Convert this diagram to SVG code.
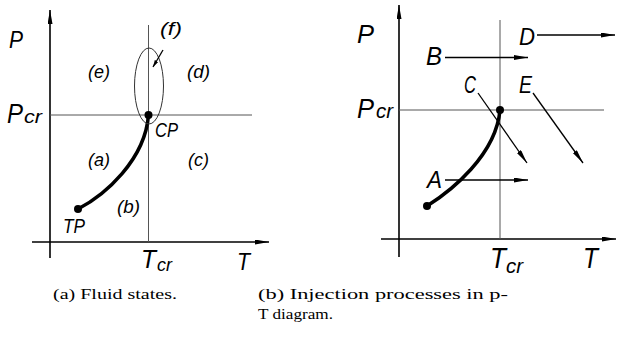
<svg xmlns="http://www.w3.org/2000/svg" width="617" height="343" viewBox="0 0 617 343">
<defs>
<style>
.ax{stroke:#000;stroke-width:1.6;fill:none}
.ref{stroke:#555;stroke-width:1;fill:none}
.curve{stroke:#000;stroke-width:3.5;fill:none;stroke-linecap:round}
.arr{stroke:#000;stroke-width:1.3;fill:none}
.lbl{font-family:"Liberation Sans","DejaVu Sans",sans-serif;font-style:italic;fill:#000}
.cap{font-family:"Liberation Serif","DejaVu Serif",serif;font-size:14.5px;fill:#000}
</style>
<marker id="ah" markerUnits="userSpaceOnUse" markerWidth="15" markerHeight="6" refX="14" refY="2.5" orient="auto">
<path d="M0,0 L14,2.5 L0,5 z" fill="#000"/>
</marker>
<marker id="ahs" markerUnits="userSpaceOnUse" markerWidth="8" markerHeight="5" refX="7" refY="2" orient="auto">
<path d="M0,0 L7,2 L0,4 z" fill="#000"/>
</marker>
</defs>

<g id="panel-a">
<g id="a-axes">
<line class="ax" x1="50" y1="258" x2="50" y2="10" marker-end="url(#ah)"/>
<line class="ax" x1="32" y1="242" x2="269" y2="242" marker-end="url(#ah)"/>
<line class="ref" x1="148.5" y1="25" x2="148.5" y2="242"/>
<line class="ref" x1="50" y1="115" x2="252" y2="115"/>
</g>
<g id="a-curve">
<path class="curve" d="M78,209 C105,195 145,160 148.5,115"/>
<circle cx="148.5" cy="115" r="4" fill="#000"/>
<circle cx="78" cy="209" r="4" fill="#000"/>
<ellipse cx="149" cy="86" rx="14.5" ry="38" fill="none" stroke="#333" stroke-width="1"/>
</g>
<g id="a-connectors">
<line class="arr" x1="163" y1="50" x2="153" y2="67" stroke-width="1" marker-end="url(#ahs)"/>
</g>
<g id="a-labels" class="lbl">
<text x="9" y="48" font-size="23" textLength="14" lengthAdjust="spacingAndGlyphs">P</text>
<text x="7" y="123" font-size="27" textLength="16" lengthAdjust="spacingAndGlyphs">P</text>
<text x="24" y="123" font-size="19" textLength="18" lengthAdjust="spacingAndGlyphs">cr</text>
<text x="237" y="270" font-size="24" textLength="13" lengthAdjust="spacingAndGlyphs">T</text>
<text x="141" y="268" font-size="25" textLength="15" lengthAdjust="spacingAndGlyphs">T</text>
<text x="157" y="271" font-size="18" textLength="15" lengthAdjust="spacingAndGlyphs">cr</text>
<text x="88" y="78" font-size="18" textLength="22" lengthAdjust="spacingAndGlyphs">(e)</text>
<text x="187" y="78" font-size="18" textLength="23" lengthAdjust="spacingAndGlyphs">(d)</text>
<text x="160" y="35" font-size="18" textLength="22" lengthAdjust="spacingAndGlyphs">(f)</text>
<text x="88" y="166" font-size="18" textLength="22" lengthAdjust="spacingAndGlyphs">(a)</text>
<text x="188" y="166" font-size="18" textLength="21" lengthAdjust="spacingAndGlyphs">(c)</text>
<text x="117" y="213" font-size="18" textLength="23" lengthAdjust="spacingAndGlyphs">(b)</text>
<text x="155" y="137" font-size="21" textLength="23" lengthAdjust="spacingAndGlyphs">CP</text>
<text x="63" y="233" font-size="21" textLength="22" lengthAdjust="spacingAndGlyphs">TP</text>
</g>
</g>

<g id="panel-b">
<g id="b-axes">
<line class="ax" x1="399" y1="257" x2="399" y2="5" marker-end="url(#ah)"/>
<line class="ax" x1="381" y1="239" x2="616" y2="239" marker-end="url(#ah)"/>
<line class="ref" x1="500" y1="20" x2="500" y2="239"/>
<line class="ref" x1="399" y1="110" x2="604" y2="110"/>
</g>
<g id="b-curve">
<path class="curve" d="M427,206 C451,191 496,155 500,110"/>
<circle cx="500" cy="110" r="4" fill="#000"/>
<circle cx="427" cy="206" r="4" fill="#000"/>
</g>
<g id="b-connectors">
<line class="arr" x1="445" y1="57.5" x2="528" y2="57.5" marker-end="url(#ah)"/>
<line class="arr" x1="537" y1="35" x2="615" y2="35" marker-end="url(#ah)"/>
<line class="arr" x1="478" y1="93" x2="527" y2="163" marker-end="url(#ah)"/>
<line class="arr" x1="533" y1="93" x2="583" y2="163" marker-end="url(#ah)"/>
<line class="arr" x1="445" y1="180" x2="528" y2="180" marker-end="url(#ah)"/>
</g>
<g id="b-labels" class="lbl">
<text x="357" y="43" font-size="25" textLength="17" lengthAdjust="spacingAndGlyphs">P</text>
<text x="357" y="118" font-size="27" textLength="17" lengthAdjust="spacingAndGlyphs">P</text>
<text x="376" y="118" font-size="20" textLength="17" lengthAdjust="spacingAndGlyphs">cr</text>
<text x="583" y="268" font-size="29" textLength="15" lengthAdjust="spacingAndGlyphs">T</text>
<text x="490" y="268" font-size="29" textLength="16" lengthAdjust="spacingAndGlyphs">T</text>
<text x="506" y="273" font-size="20" textLength="17" lengthAdjust="spacingAndGlyphs">cr</text>
<text x="426" y="65" font-size="25" textLength="16" lengthAdjust="spacingAndGlyphs">B</text>
<text x="519" y="45" font-size="24" textLength="16" lengthAdjust="spacingAndGlyphs">D</text>
<text x="464" y="93" font-size="23" textLength="12" lengthAdjust="spacingAndGlyphs">C</text>
<text x="519" y="93" font-size="23" textLength="13" lengthAdjust="spacingAndGlyphs">E</text>
<text x="427" y="188" font-size="23" textLength="15" lengthAdjust="spacingAndGlyphs">A</text>
</g>
</g>

<g id="captions" class="cap">
<text x="53" y="299" textLength="124" lengthAdjust="spacingAndGlyphs">(a) Fluid states.</text>
<text x="258" y="299" textLength="250" lengthAdjust="spacingAndGlyphs">(b) Injection processes in p-</text>
<text x="258" y="319" textLength="75" lengthAdjust="spacingAndGlyphs">T diagram.</text>
</g>
</svg>
